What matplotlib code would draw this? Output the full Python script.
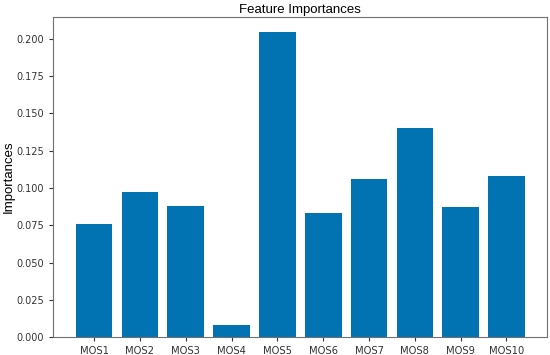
import matplotlib
matplotlib.use("Agg")
import matplotlib.pyplot as plt

features = ["MOS1", "MOS2", "MOS3", "MOS4", "MOS5", "MOS6", "MOS7", "MOS8", "MOS9", "MOS10"]
importances = [0.0761, 0.0976, 0.0880, 0.0084, 0.2044, 0.0835, 0.1063, 0.1405, 0.0871, 0.1081]

fig, ax = plt.subplots(figsize=(5.5, 3.55), dpi=100)
ax.bar(features, importances, color="#0173b2", width=0.8)

ax.set_title("Feature Importances", fontsize=9.5, family="Liberation Sans", pad=3)
ax.set_ylabel("Importances", fontsize=9.5, family="Liberation Sans", labelpad=1.5)
ax.tick_params(axis="y", labelsize=7, colors="#333333", length=3)
ax.tick_params(axis="x", labelsize=7.2, colors="#333333", length=3)
for s in ax.spines.values():
    s.set_color("#707070")

plt.subplots_adjust(left=0.097, right=0.995, top=0.952, bottom=0.05)
plt.savefig("out.png")
